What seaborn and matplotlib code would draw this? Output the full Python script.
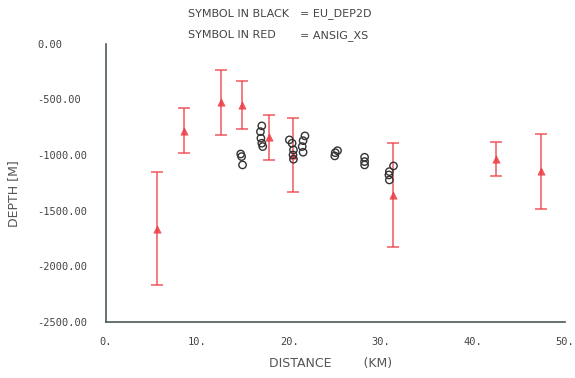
import seaborn as sns
import matplotlib.pyplot as plt
import pandas as pd

# EU_DEP2D points (black open circles)
eu_dist = [14.7, 14.8, 14.9,
           17.0, 16.85, 16.9, 17.0, 17.1,
           20.0, 20.3, 20.45, 20.4, 20.45,
           21.7, 21.5, 21.4, 21.5,
           25.25, 25.0, 24.95,
           28.2, 28.2, 28.2,
           31.35, 30.9, 30.85, 30.9]
eu_depth = [-990, -1013, -1088,
            -737, -789, -848, -893, -923,
            -863, -893, -953, -998, -1037,
            -827, -870, -923, -974,
            -960, -978, -1007,
            -1019, -1058, -1088,
            -1097, -1148, -1178, -1223]

# ANSIG_XS points (red triangles with error bars)
an_dist = [5.55, 8.55, 12.6, 14.8, 17.8, 20.4, 31.3, 42.5, 47.4]
an_depth = [-1660, -780, -525, -548, -840, -1000, -1360, -1035, -1145]
an_err = [510, 205, 290, 215, 200, 330, 470, 155, 335]

xticks = [0, 10, 20, 30, 40, 50]
xtick_labels = ["0.", "10.", "20.", "30.", "40.", "50."]
yticks = [0, -500, -1000, -1500, -2000, -2500]
ytick_labels = ["0.00", "-500.00", "-1000.00", "-1500.00", "-2000.00", "-2500.00"]

red = "#ee3b44"
grey = "#555555"

sns.set_style("white")
plt.rcParams['font.family'] = ['DejaVu Sans']

fig = plt.figure(figsize=(5.75, 3.78), dpi=100)
ax = fig.add_axes([0.184, 0.148, 0.798, 0.736])

eu = pd.DataFrame({"dist": eu_dist, "depth": eu_depth})
an = pd.DataFrame({"dist": an_dist, "depth": an_depth, "err": an_err})

ax.errorbar(an["dist"], an["depth"], yerr=an["err"], fmt="none",
            ecolor=red, elinewidth=1.1, capsize=4, capthick=1.1, alpha=0.85)
sns.scatterplot(data=an, x="dist", y="depth", marker="^", s=28,
                color=red, edgecolor=red, alpha=0.85, ax=ax, zorder=3)
sns.scatterplot(data=eu, x="dist", y="depth", marker="o", s=28,
                facecolor="none", edgecolor="#333333", linewidth=1.0,
                ax=ax, zorder=4)

ax.set_xlim(0, 50)
ax.set_ylim(-2500, 0)
ax.set_xticks(xticks)
ax.set_xticklabels(xtick_labels, family="DejaVu Sans Mono")
ax.set_yticks(yticks)
ax.set_yticklabels(ytick_labels, ha="left", family="DejaVu Sans Mono")
ax.tick_params(axis="both", direction="inout", length=5, width=1,
               colors=grey, labelsize=7.5, labelcolor="#444444")
ax.tick_params(axis="x", pad=8)
ax.tick_params(axis="y", pad=47)

for s in ["top", "right"]:
    ax.spines[s].set_visible(False)
for s in ["left", "bottom"]:
    ax.spines[s].set_color("#4a5a55")
    ax.spines[s].set_linewidth(1.2)

ax.set_xlabel("DISTANCE        (KM)", fontsize=9, color="#555555")
ax.set_ylabel("DEPTH [M]", fontsize=9, color="#555555")
ax.xaxis.set_label_coords(0.49, -0.126)
ax.yaxis.set_label_coords(-0.186, 0.46)

# legend text: two columns so the "=" signs line up
fig.text(0.327, 0.963, "SYMBOL IN BLACK", ha="left", va="center",
         fontsize=8, color="#444444")
fig.text(0.522, 0.963, "= EU_DEP2D", ha="left", va="center",
         fontsize=8, color="#444444")
fig.text(0.327, 0.907, "SYMBOL IN RED", ha="left", va="center",
         fontsize=8, color="#444444")
fig.text(0.522, 0.907, "= ANSIG_XS", ha="left", va="center",
         fontsize=8, color="#444444")

fig.savefig("out.png", dpi=100)
